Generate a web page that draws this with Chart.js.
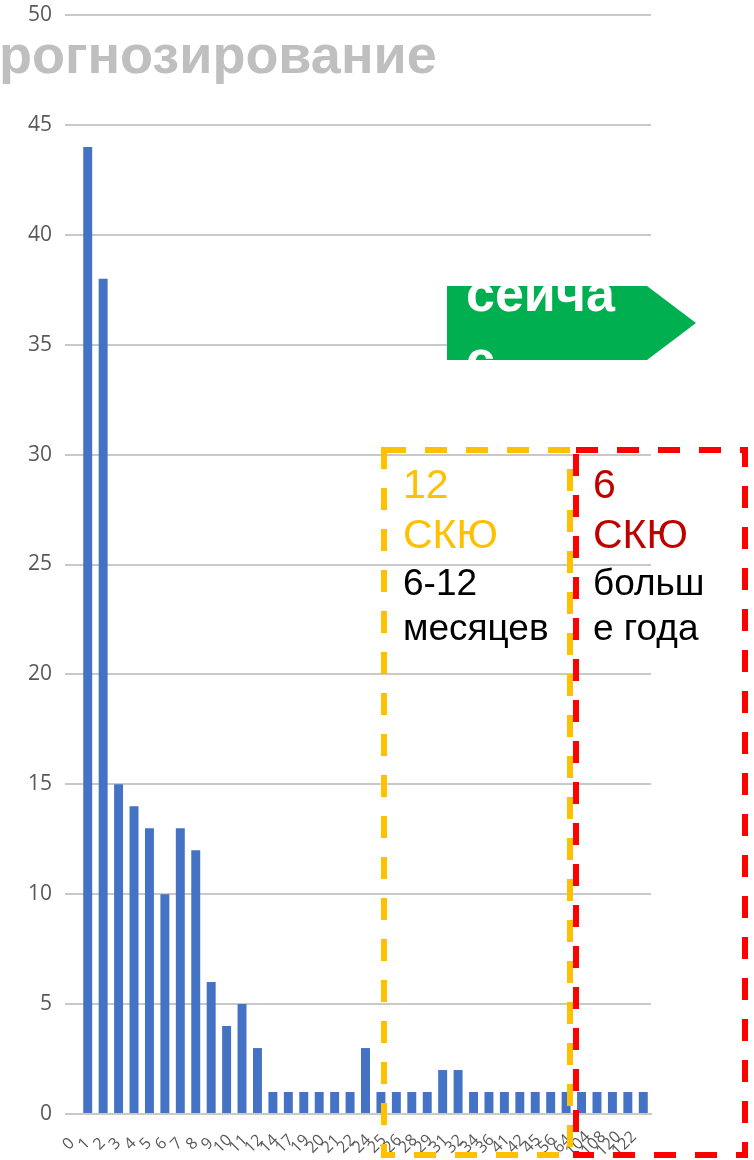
<!DOCTYPE html>
<html>
<head>
  <meta charset="utf-8" />
  <title>Прогнозирование</title>
  <script src="https://cdn.jsdelivr.net/npm/chart.js@4.4.1/dist/chart.umd.min.js"></script>
  <style>
    html, body { margin: 0; padding: 0; background: #fff; }
    #wrap { width: 754px; height: 1160px; position: relative; }
  </style>
</head>
<body>
  <div id="wrap">
    <canvas id="skuChart" width="754" height="1160"></canvas>
  </div>

  <script>
    // Категории (число месяцев) и количество СКЮ
    const categories = ['0','1','2','3','4','5','6','7','8','9','10','11','12','14','17','19','20','21','22',
                        '24','25','26','28','29','31','32','34','36','41','42','45','56','64','104','108','120','122'];
    const skuCounts = [44, 38, 15, 14, 13, 10, 13, 12, 6, 4, 5, 3, 1, 1, 1, 1, 1, 1, 3,
                       1, 1, 1, 1, 2, 2, 1, 1, 1, 1, 1, 1, 1, 1, 1, 1, 1, 1];
    const yMin = 0, yMax = 50, yStep = 5;

    // подписи поверх графика
    const titleText = 'рогнозирование';
    const arrowLines = ['сейча', 'с'];
    const yellowLines = ['12', 'СКЮ', '6-12', 'месяцев'];
    const redLines = ['6', 'СКЮ', 'больш', 'е года'];

    const gridColor = '#c9c9c9';
    const labelColor = '#595959';

    // 1) подписи оси X, повернутые на 45°
    const xLabelsPlugin = {
      id: 'xLabels',
      afterDraw(chart) {
        const ctx = chart.ctx;
        const xs = chart.scales.x;
        const base = chart.chartArea.bottom;
        ctx.save();
        ctx.fillStyle = labelColor;
        ctx.font = '16px "Open Sans"';
        ctx.textAlign = 'center';
        ctx.textBaseline = 'middle';
        categories.forEach((lab, i) => {
          const x = xs.getPixelForTick(i);
          ctx.save();
          ctx.translate(x - 19, base + 30);
          ctx.rotate(-Math.PI / 4);
          ctx.fillText(lab, 0, 0);
          ctx.restore();
        });
        ctx.restore();
      }
    };

    // 2) фигуры и подписи со слайда поверх графика
    const overlayPlugin = {
      id: 'overlay',
      afterDraw(chart) {
        const ctx = chart.ctx;
        ctx.save();

        // заголовок (обрезан слева)
        ctx.fillStyle = '#bfbfbf';
        ctx.font = 'bold 54px "Liberation Sans"';
        ctx.textAlign = 'left';
        ctx.textBaseline = 'alphabetic';
        ctx.fillText(titleText, -1, 73);

        // зелёная стрелка "сейчас"
        ctx.save();
        ctx.beginPath();
        ctx.moveTo(447, 286);
        ctx.lineTo(647, 286);
        ctx.lineTo(696, 323);
        ctx.lineTo(647, 360);
        ctx.lineTo(447, 360);
        ctx.closePath();
        ctx.fillStyle = '#00b050';
        ctx.fill();
        ctx.clip();
        ctx.fillStyle = '#ffffff';
        ctx.font = 'bold 52px "Liberation Sans"';
        ctx.fillText(arrowLines[0], 466, 311);
        ctx.fillText(arrowLines[1], 466, 377);
        ctx.restore();

        // пунктирные рамки
        ctx.lineWidth = 6;
        ctx.setLineDash([22, 19]);
        ctx.strokeStyle = '#ffc000';
        ctx.strokeRect(384, 450, 186, 705);
        ctx.strokeStyle = '#ff0000';
        ctx.strokeRect(576, 450, 169, 705);
        ctx.setLineDash([]);

        // текст в рамках
        const baselines = [498, 548, 595, 640];
        const drawBlock = (lines, x, color) => {
          lines.forEach((t, i) => {
            ctx.fillStyle = i < 2 ? color : '#000000';
            ctx.font = (i < 2 ? '41px' : '37px') + ' "Liberation Sans"';
            ctx.fillText(t, x, baselines[i]);
          });
        };
        drawBlock(yellowLines, 403, '#ffc000');
        drawBlock(redLines, 593, '#c00000');

        ctx.restore();
      }
    };

    const ctx = document.getElementById('skuChart').getContext('2d');
    new Chart(ctx, {
      type: 'bar',
      data: {
        labels: categories,
        datasets: [{
          data: skuCounts,
          backgroundColor: '#4472c4',
          borderWidth: 0,
          barPercentage: 0.58,
          categoryPercentage: 1.0
        }]
      },
      options: {
        responsive: false,
        animation: false,
        layout: { padding: { top: 15, right: 103, bottom: 38, left: 0 } },
        plugins: {
          legend: { display: false },
          tooltip: { enabled: false }
        },
        scales: {
          x: {
            type: 'category',
            offset: true,
            grid: { display: false },
            border: { display: true, color: gridColor, width: 2 },
            ticks: { display: false }
          },
          y: {
            min: yMin,
            max: yMax,
            ticks: {
              stepSize: yStep,
              color: labelColor,
              padding: 13,
              font: { family: '"Open Sans"', size: 21 }
            },
            grid: {
              color: gridColor,
              lineWidth: 2,
              drawTicks: true,
              tickLength: 15,
              tickColor: gridColor
            },
            border: { display: false },
            afterFit(scale) {
              scale.width = 80;
              scale.paddingTop = 0;
              scale.paddingBottom = 0;
            }
          }
        }
      },
      plugins: [xLabelsPlugin, overlayPlugin]
    });
  </script>
</body>
</html>
